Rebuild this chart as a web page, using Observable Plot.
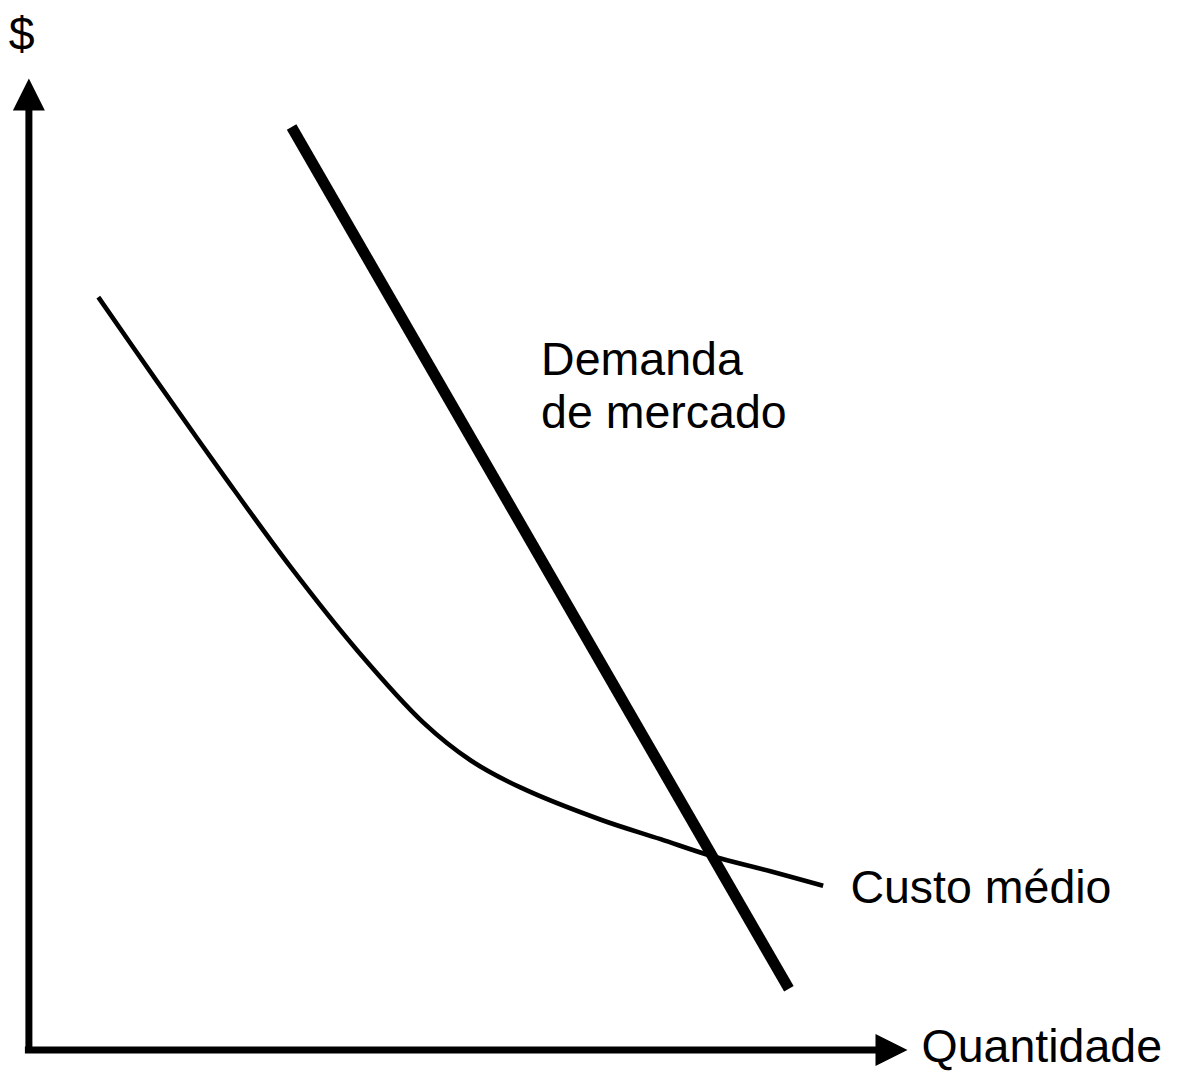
<!DOCTYPE html>
<html>
<head>
<meta charset="utf-8">
<script src="https://cdn.jsdelivr.net/npm/d3@7"></script>
<script src="https://cdn.jsdelivr.net/npm/@observablehq/plot@0.6"></script>
<style>
  html, body { margin: 0; padding: 0; background: #fff; }
  #chart svg { display: block; overflow: visible; }
</style>
</head>
<body>
<div id="chart"></div>
<script>
// Demand line (market demand), quantity vs price (0–100 units on each axis)
const demandQ = [29.9, 86.5];
const demandP = [95.0, 6.3];

// Average cost curve
const costQ = [7.9, 14.6, 22.2, 29.8, 37.4, 44.9, 50.3, 56.0, 65.1, 71.9, 77.6, 84.4, 90.4];
const costP = [77.5, 68.8, 59.1, 49.7, 41.1, 33.7, 29.8, 27.0, 23.7, 21.7, 20.0, 18.4, 16.9];

// Axis extents
const axisEnd = 100;
const axisLineEnd = 96.6;

// Text labels
const labelText = ["$", "Demanda\nde mercado", "Custo médio", "Quantidade"];
const labelQ = [-2.3, 58.3, 93.5, 101.6];
const labelP = [102.9, 64.0, 15.1, -1.2];

const demand = demandQ.map((q, i) => ({q, p: demandP[i]}));
const cost = costQ.map((q, i) => ({q, p: costP[i]}));
const labels = labelText.map((t, i) => ({t, q: labelQ[i], p: labelP[i]}));

const arrowUp = {draw(ctx) { ctx.moveTo(0, 0); ctx.lineTo(-16, 32); ctx.lineTo(16, 32); ctx.closePath(); }};
const arrowRight = {draw(ctx) { ctx.moveTo(0, 0); ctx.lineTo(-32, -16); ctx.lineTo(-32, 16); ctx.closePath(); }};

const chart = Plot.plot({
  width: 1184,
  height: 1073,
  marginLeft: 28.4,
  marginRight: 277,
  marginTop: 78,
  marginBottom: 23.5,
  x: {domain: [0, axisEnd], axis: null},
  y: {domain: [0, axisEnd], axis: null},
  style: {fontFamily: "'Liberation Sans', Arial, sans-serif", background: "#fff", color: "#000"},
  marks: [
    Plot.ruleX([0], {y1: 0, y2: axisLineEnd, stroke: "#000", strokeWidth: 7, strokeLinecap: "square"}),
    Plot.ruleY([0], {x1: 0, x2: axisLineEnd, stroke: "#000", strokeWidth: 7, strokeLinecap: "square"}),
    Plot.dot([{q: 0, p: axisEnd}], {x: "q", y: "p", symbol: arrowUp, r: 10, fill: "#000", stroke: "none"}),
    Plot.dot([{q: axisEnd, p: 0}], {x: "q", y: "p", symbol: arrowRight, r: 10, fill: "#000", stroke: "none"}),
    Plot.line(cost, {x: "q", y: "p", curve: "catmull-rom", stroke: "#000", strokeWidth: 4.6, strokeLinecap: "butt"}),
    Plot.line(demand, {x: "q", y: "p", stroke: "#000", strokeWidth: 11, strokeLinecap: "butt"}),
    Plot.text(labels, {x: "q", y: "p", text: "t", textAnchor: "start", lineAnchor: "bottom", lineHeight: 1.15, fontSize: 46.5, fill: "#000"})
  ]
});
document.getElementById("chart").appendChild(chart);
</script>
</body>
</html>
